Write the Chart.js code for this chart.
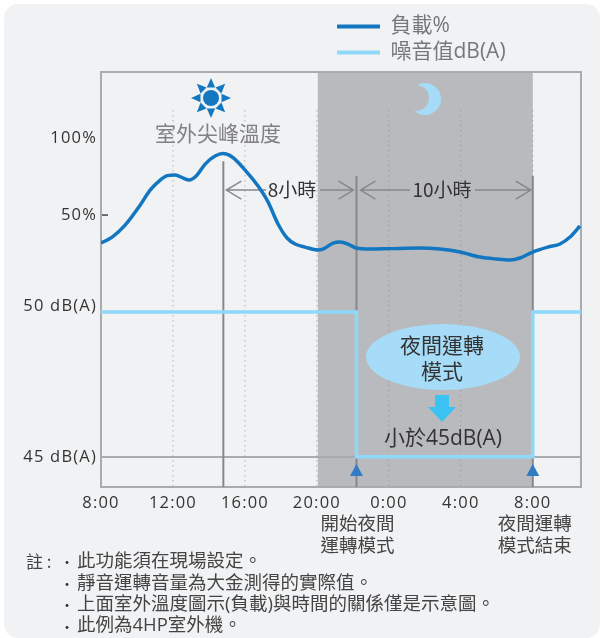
<!DOCTYPE html>
<html lang="zh-Hant">
<head>
<meta charset="UTF-8">
<title>夜間運轉模式</title>
<script src="https://cdnjs.cloudflare.com/ajax/libs/Chart.js/4.4.1/chart.umd.min.js"></script>
<style>
    body { margin: 0; background: #fff; }
    #panel { position: absolute; left: 4px; top: 4px; width: 596px; height: 634px; background: #f1f2f4; border-radius: 14px; }
    canvas { position: absolute; left: 0; top: 0; }
</style>
</head>
<body>
<div id="panel"></div>
<canvas id="chart" width="604" height="638"></canvas>
<script>
// hours after 08:00
const loadHours = [0,0.62,1.34,2.18,2.73,3.29,3.68,4.12,4.57,4.9,5.29,5.79,6.34,6.79,7.29,8.01,8.73,9.29,9.84,10.34,10.79,11.34,12.07,12.34,12.9,13.29,13.84,14.18,14.96,16.07,17.73,18.84,19.96,21.07,22,22.73,23.29,24,24.84,25.51,26.07,26.62];
const loadValues = [31.8,35.7,43.5,56.5,66.2,72.7,75.6,76,74,72.7,75.3,83.1,88.3,89.9,87.7,79.2,68.8,58.4,44.2,35.1,31.2,29.2,27.3,27.9,31.8,32.5,30.5,28.6,27.9,28.2,28.6,27.9,26,22.7,21.4,20.8,22.1,26,29.2,31.2,35.7,42.9];
const noiseHours = [0,14.2,14.2,24,24,26.68];
const noiseValues = [49.8,49.8,45,45,49.8,49.8]; // the line sits a little under the 50 dB label

const xTickHours = [0,4,8,12,16,20,24];
const xTickLabels = ['8:00','12:00','16:00','20:00','0:00','4:00','8:00'];
const loadTicks = [50,100];
const noiseTicks = [45,50];
const nightStart = 12.05, nightEnd = 24;
const peakHour = 6.8, modeStart = 14.2;

const notes = ['此功能須在現場設定。','靜音運轉音量為大金測得的實際值。','上面室外溫度圖示(負載)與時間的關係僅是示意圖。','此例為4HP室外機。'];

const FONT = '"Open Sans","Noto Sans CJK TC",sans-serif';
const CJK = '"Noto Sans CJK TC","Open Sans",sans-serif';

function text(ctx, str, x, y, size, color, align, family) {
    ctx.font = size + 'px ' + (family || CJK);
    ctx.fillStyle = color;
    ctx.textAlign = align || 'center';
    ctx.textBaseline = 'middle';
    ctx.fillText(str, x, y);
}

function sun(ctx, cx, cy) {
    ctx.fillStyle = '#1478c0';
    ctx.beginPath(); ctx.arc(cx, cy, 8, 0, Math.PI * 2); ctx.fill();
    for (let i = 0; i < 8; i++) {
        const a = i * Math.PI / 4;
        const c = Math.cos(a), s = Math.sin(a);
        ctx.beginPath();
        ctx.moveTo(cx + c * 20, cy + s * 20);
        ctx.lineTo(cx + c * 10.5 - s * 4.2, cy + s * 10.5 + c * 4.2);
        ctx.lineTo(cx + c * 10.5 + s * 4.2, cy + s * 10.5 - c * 4.2);
        ctx.fill();
    }
}

function dimArrow(ctx, x0, x1, y) {
    const d = x1 > x0 ? -1 : 1;
    ctx.beginPath();
    ctx.moveTo(x0, y); ctx.lineTo(x1, y);
    ctx.moveTo(x1 + d * 15, y - 9); ctx.lineTo(x1, y); ctx.lineTo(x1 + d * 15, y + 9);
    ctx.stroke();
}

const artwork = {
    id: 'artwork',
    afterLayout(chart) {
        // legend sits above the plot, right of centre
        const l = chart.legend;
        const w = l.width, h = l.height;
        l.left = 332; l.top = 11; l.right = 332 + w; l.bottom = 11 + h;
        // zero-width dB axis shares the label column of the load axis (labels get clipped to the box)
        chart.scales.y2.left = 0;
        chart.scales.y2.right = chart.chartArea.left;
    },
    beforeDraw(chart) {
        const ctx = chart.ctx, a = chart.chartArea, x = chart.scales.x;
        ctx.letterSpacing = '0px';
        ctx.fillStyle = '#b9babd';
        ctx.fillRect(x.getPixelForValue(nightStart), a.top, x.getPixelForValue(nightEnd) - x.getPixelForValue(nightStart), a.height);
    },
    beforeDatasetsDraw(chart) {
        const ctx = chart.ctx, a = chart.chartArea, x = chart.scales.x, y = chart.scales.y;
        ctx.save();
        // dotted hour lines
        ctx.strokeStyle = '#8f9093';
        ctx.lineWidth = 1;
        ctx.setLineDash([1, 4]);
        xTickHours.slice(1).forEach(h => {
            ctx.beginPath();
            ctx.moveTo(x.getPixelForValue(h), y.getPixelForValue(118));
            ctx.lineTo(x.getPixelForValue(h), a.bottom);
            ctx.stroke();
        });
        ctx.setLineDash([]);
        // frame
        ctx.strokeStyle = '#a9abae';
        ctx.lineWidth = 2;
        ctx.strokeRect(a.left, a.top, a.width, a.height);
        // solid markers
        ctx.strokeStyle = '#87888b';
        [[peakHour, 85], [modeStart, 75.3], [nightEnd, 75.3]].forEach(m => {
            ctx.beginPath();
            ctx.moveTo(x.getPixelForValue(m[0]), y.getPixelForValue(m[1]));
            ctx.lineTo(x.getPixelForValue(m[0]), a.bottom);
            ctx.stroke();
        });
        ctx.lineWidth = 1.5;
        const dy = y.getPixelForValue(66.2);
        dimArrow(ctx, 266, x.getPixelForValue(peakHour) + 3, dy);
        dimArrow(ctx, 320, x.getPixelForValue(modeStart) - 3, dy);
        dimArrow(ctx, 410, x.getPixelForValue(modeStart) + 4, dy);
        dimArrow(ctx, 475, x.getPixelForValue(nightEnd) - 2, dy);
        ctx.restore();
    },
    afterDatasetsDraw(chart) {
        const ctx = chart.ctx, x = chart.scales.x, y = chart.scales.y;
        ctx.save();
        // 50% tick
        ctx.strokeStyle = '#444';
        ctx.lineWidth = 1.5;
        ctx.beginPath();
        ctx.moveTo(chart.chartArea.left + 1, y.getPixelForValue(50));
        ctx.lineTo(chart.chartArea.left + 7, y.getPixelForValue(50));
        ctx.stroke();

        sun(ctx, 211, 98);
        // moon
        ctx.fillStyle = '#a6dcf8';
        ctx.beginPath(); ctx.arc(425, 99, 16, 0, Math.PI * 2); ctx.fill();
        ctx.fillStyle = '#b9babd';
        ctx.beginPath(); ctx.arc(416, 98, 13, 0, Math.PI * 2); ctx.fill();

        text(ctx, '室外尖峰溫度', 218, 133, 21, '#808184');
        text(ctx, '8小時', 292, 190, 19, '#333');
        text(ctx, '10小時', 442, 190, 19, '#333');

        // mode bubble
        ctx.fillStyle = '#a6dcf8';
        ctx.beginPath(); ctx.ellipse(443, 357, 77, 33, 0, 0, Math.PI * 2); ctx.fill();
        text(ctx, '夜間運轉', 442, 345, 21, '#333');
        text(ctx, '模式', 442, 371, 21, '#333');
        ctx.fillStyle = '#3cc3f3';
        ctx.beginPath();
        ctx.moveTo(435, 395); ctx.lineTo(449, 395); ctx.lineTo(449, 407); ctx.lineTo(456, 407);
        ctx.lineTo(442, 422); ctx.lineTo(428, 407); ctx.lineTo(435, 407);
        ctx.closePath(); ctx.fill();
        text(ctx, '小於45dB(A)', 443, 439, 21, '#333', 'center', FONT);

        // start / end triangles
        ctx.fillStyle = '#2f7cc4';
        [modeStart, nightEnd].forEach(h => {
            const p = x.getPixelForValue(h);
            ctx.beginPath();
            ctx.moveTo(p, 464); ctx.lineTo(p + 6.5, 476); ctx.lineTo(p - 6.5, 476);
            ctx.closePath(); ctx.fill();
        });

        text(ctx, '開始夜間', x.getPixelForValue(modeStart) + 1, 523, 18.5, '#444');
        text(ctx, '運轉模式', x.getPixelForValue(modeStart) + 1, 545, 18.5, '#444');
        text(ctx, '夜間運轉', x.getPixelForValue(nightEnd) + 2, 523, 18.5, '#444');
        text(ctx, '模式結束', x.getPixelForValue(nightEnd) + 2, 545, 18.5, '#444');

        text(ctx, '註 :', 26, 562, 17, '#444', 'left');
        notes.forEach((n, i) => {
            const ny = 562 + i * 21.4;
            text(ctx, '•', 67, ny, 14, '#333');
            text(ctx, n, 77, ny, 18.5, '#444', 'left', FONT);
        });
        ctx.restore();
        // tick labels are on a layer above the datasets, they draw next with this spacing
        ctx.letterSpacing = '1.2px';
    }
};

function legendItems(chart) {
    return Chart.defaults.plugins.legend.labels.generateLabels(chart).map(item => ({...item, lineWidth: 0}));
}

new Chart(document.getElementById('chart'), {
    type: 'line',
    data: {
        datasets: [
            {
                label: '負載%',
                data: loadHours.map((h, i) => ({x: h, y: loadValues[i]})),
                yAxisID: 'y',
                borderColor: '#1277c0',
                backgroundColor: '#1277c0',
                borderWidth: 3.5,
                cubicInterpolationMode: 'monotone',
                pointRadius: 0
            },
            {
                label: '噪音值dB(A)',
                data: noiseHours.map((h, i) => ({x: h, y: noiseValues[i]})),
                yAxisID: 'y2',
                borderColor: '#8fd8f8',
                backgroundColor: '#8fd8f8',
                borderWidth: 3.5,
                pointRadius: 0
            }
        ]
    },
    options: {
        responsive: false,
        animation: false,
        events: [],
        layout: {padding: {top: 72, right: 23, bottom: 121, left: 0}},
        plugins: {
            tooltip: {enabled: false},
            legend: {
                position: 'chartArea',
                align: 'start',
                labels: {
                    boxWidth: 43,
                    boxHeight: 4,
                    padding: 5,
                    color: '#77787a',
                    font: {family: FONT, size: 21, lineHeight: 1.2},
                    generateLabels: legendItems
                }
            }
        },
        scales: {
            x: {
                type: 'linear',
                min: 0,
                max: 26.68,
                afterFit: s => { s.height = 30; },
                afterBuildTicks: s => { s.ticks = xTickHours.map(v => ({value: v})); },
                grid: {display: false, drawTicks: false},
                border: {display: false},
                ticks: {
                    z: 1,
                    padding: 6,
                    maxRotation: 0,
                    autoSkip: false,
                    color: '#333',
                    font: {family: FONT, size: 16.5},
                    callback: v => xTickLabels[xTickHours.indexOf(v)]
                }
            },
            y: {
                min: -126.6,
                max: 142.9,
                position: 'left',
                afterFit: s => { s.width = 101; },
                afterBuildTicks: s => { s.ticks = loadTicks.map(v => ({value: v})); },
                grid: {display: false, drawTicks: false},
                border: {display: false},
                ticks: {
                    z: 1,
                    padding: 4,
                    autoSkip: false,
                    color: '#333',
                    font: {family: FONT, size: 16.5},
                    callback: v => v + '%'
                }
            },
            y2: {
                min: 44,
                max: 57.75,
                position: 'left',
                afterFit: s => { s.width = 0; },
                afterBuildTicks: s => { s.ticks = noiseTicks.map(v => ({value: v})); },
                // only the 45 dB level is ruled across the plot
                grid: {
                    drawTicks: false,
                    lineWidth: 2,
                    color: c => c.tick && c.tick.value == 45 ? '#a9abae' : 'transparent'
                },
                border: {display: false},
                ticks: {
                    z: 1,
                    padding: 4,
                    autoSkip: false,
                    color: '#333',
                    font: {family: FONT, size: 16.5},
                    callback: v => v + ' dB(A)'
                }
            }
        }
    },
    plugins: [artwork]
});
</script>
</body>
</html>
